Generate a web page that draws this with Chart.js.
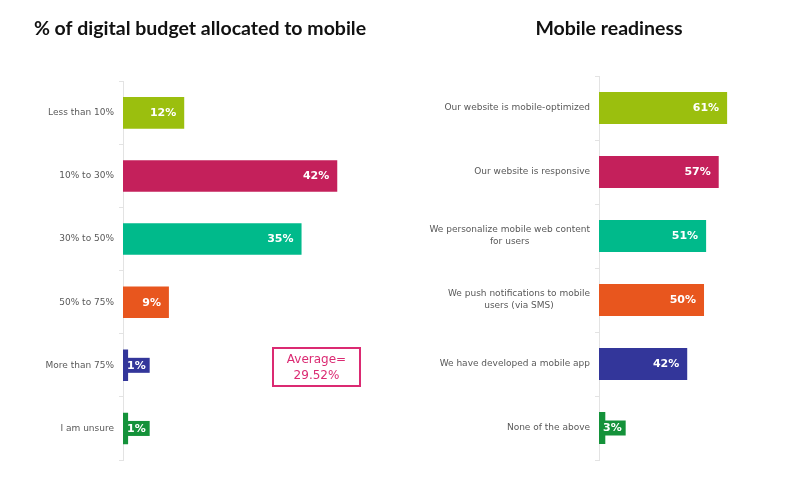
<!DOCTYPE html>
<html>
<head>
<meta charset="utf-8">
<script src="https://cdn.jsdelivr.net/npm/chart.js@4"></script>
<style>
  body { margin: 0; background: #fff; }
  #wrap { position: relative; width: 800px; height: 488px; }
  #wrap canvas { position: absolute; top: 0; }
  #chartBudget { left: 0; }
  #chartReady { left: 400px; }
  #average {
    position: absolute; left: 272px; top: 347px; width: 85px; height: 34px;
    border: 2px solid #db2a72; color: #db2a72;
    font: 12px "DejaVu Sans", sans-serif; line-height: 16px;
    text-align: center; padding-top: 2px; box-sizing: content-box;
  }
</style>
</head>
<body>
<div id="wrap">
  <canvas id="chartBudget" width="400" height="488"></canvas>
  <canvas id="chartReady" width="400" height="488"></canvas>
  <div id="average">Average=<br>29.52%</div>
</div>
<script>
// datos
const budgetTitle = "% of digital budget allocated to mobile";
const budgetLabels = ["Less than 10%", "10% to 30%", "30% to 50%", "50% to 75%", "More than 75%", "I am unsure"];
const budgetValues = [12, 42, 35, 9, 1, 1];

const readyTitle = "Mobile readiness";
const readyLabels = [
    ["Our website is mobile-optimized"],
    ["Our website is responsive"],
    ["We personalize mobile web content", "for users"],
    ["We push notifications to mobile", "users (via SMS)"],
    ["We have developed a mobile app"],
    ["None of the above"]
];
const readyValues = [61, 57, 51, 50, 42, 3];

const barColors = ["#9bbf0e", "#c4205b", "#00ba8b", "#e8561e", "#33369a", "#14923a"];

// etiquetas del eje y, centradas entre ellas y alineadas al eje
const tickLabelsPlugin = {
    id: 'tickLabels',
    afterDraw(chart) {
        const ctx = chart.ctx;
        const yScale = chart.scales.y;
        const right = chart.chartArea.left - 9;
        ctx.save();
        ctx.font = '9px "DejaVu Sans", sans-serif';
        ctx.fillStyle = '#595959';
        ctx.textBaseline = 'middle';
        ctx.textAlign = 'center';
        chart.data.labels.forEach((lbl, i) => {
            const lines = Array.isArray(lbl) ? lbl : [lbl];
            const maxW = Math.max(...lines.map(l => ctx.measureText(l).width));
            const cx = right - maxW / 2;
            const y = yScale.getPixelForValue(i);
            const lh = 12;
            lines.forEach((l, j) => {
                ctx.fillText(l, cx, y + (j - (lines.length - 1) / 2) * lh);
            });
        });
        ctx.restore();
    }
};

// valores dentro de la barra
const valueLabelsPlugin = {
    id: 'valueLabels',
    afterDatasetsDraw(chart) {
        const ctx = chart.ctx;
        const meta = chart.getDatasetMeta(0);
        const data = chart.data.datasets[0].data;
        ctx.save();
        ctx.font = 'bold 11px "DejaVu Sans", sans-serif';
        ctx.textBaseline = 'middle';
        meta.data.forEach((bar, i) => {
            const txt = data[i] + '%';
            const w = ctx.measureText(txt).width;
            if (bar.x - bar.base > w + 14) {
                ctx.fillStyle = '#fff';
                ctx.textAlign = 'right';
                ctx.fillText(txt, bar.x - 8, bar.y + 0.5);
            } else {
                ctx.fillStyle = barColors[i];
                ctx.fillRect(bar.base, bar.y - 7.5, w + 8, 15);
                ctx.fillStyle = '#fff';
                ctx.textAlign = 'left';
                ctx.fillText(txt, bar.base + 4, bar.y + 0.5);
            }
        });
        ctx.restore();
    }
};

function crearGrafico(id, titulo, labels, valores, opts) {
    const ctx = document.getElementById(id).getContext("2d");
    return new Chart(ctx, {
        type: 'bar',
        data: {
            labels: labels,
            datasets: [{
                data: valores,
                backgroundColor: barColors,
                borderWidth: 0,
                barPercentage: 0.5,
                categoryPercentage: 1
            }]
        },
        options: {
            indexAxis: 'y',
            responsive: false,
            animation: false,
            devicePixelRatio: 1,
            layout: { padding: { left: opts.padLeft, right: 0, top: 0, bottom: opts.padBottom } },
            plugins: {
                legend: { display: false },
                tooltip: { enabled: false },
                title: {
                    display: true,
                    text: titulo,
                    color: '#111',
                    font: { family: 'Lato', size: 19.5, weight: 'bold' },
                    padding: { top: 17, bottom: opts.titleGap }
                }
            },
            scales: {
                x: { display: false, min: 0, max: opts.max },
                y: {
                    afterFit: scale => { scale.width = opts.axisW; },
                    ticks: { display: false },
                    grid: {
                        display: true,
                        drawOnChartArea: false,
                        offset: true,
                        tickLength: 4,
                        color: '#e3e3e3'
                    },
                    border: { display: true, color: '#e3e3e3' }
                }
            }
        },
        plugins: [tickLabelsPlugin, valueLabelsPlugin]
    });
}

crearGrafico("chartBudget", budgetTitle, budgetLabels, budgetValues,
    { padLeft: 0, axisW: 123, max: 54.3, padBottom: 28, titleGap: 40.9 });
crearGrafico("chartReady", readyTitle, readyLabels, readyValues,
    { padLeft: 18, axisW: 181, max: 95.7, padBottom: 28, titleGap: 35.6 });
</script>
</body>
</html>
